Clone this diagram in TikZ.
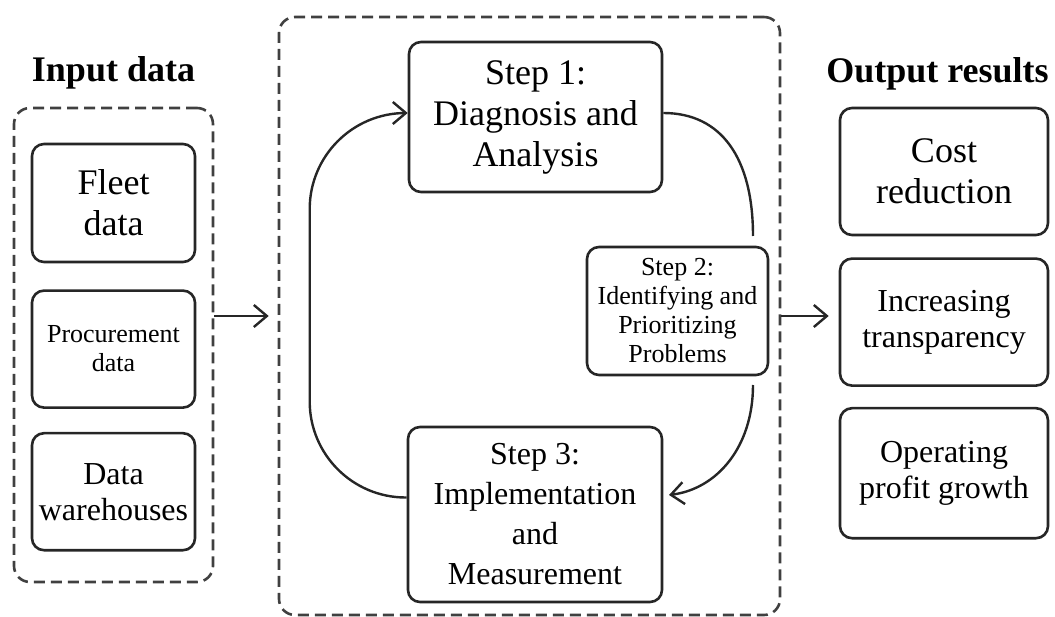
\documentclass[tikz,border=0pt]{standalone}
\usepackage{fontspec}
\setmainfont{Liberation Serif}
\usetikzlibrary{arrows.meta, positioning}

\begin{document}
\begin{tikzpicture}[x=1pt, y=-1pt,
    box/.style={draw=black!85, rounded corners=12pt, line width=2.6pt, align=center, inner sep=0pt},
    frame/.style={draw=black!75, dash pattern=on 11pt off 6pt, rounded corners=16pt, line width=2.6pt},
    big/.style={font=\fontsize{36}{41}\selectfont},
    mid/.style={font=\fontsize{32}{36}\selectfont},
    small/.style={font=\fontsize{26}{29}\selectfont},
    heading/.style={font=\fontsize{36}{41}\selectfont\bfseries, anchor=base},
    link/.style={draw=black!85, line width=2.4pt},
    arr/.style={link, -{Straight Barb[length=13pt, width=22pt]}}]
  \useasboundingbox (0,0) rectangle (1055,617);

  % input side
  \node[heading] (intitle) at (113.5,82) {Input data};
  \node[frame, minimum width=199pt, minimum height=474pt] (inframe) at (113.5,345) {};
  \node[box, big, minimum width=163pt, minimum height=118pt] (fleet) at (113.5,203) {Fleet\\data};
  \node[box, small, minimum width=163pt, minimum height=117pt, below=26pt of fleet] (procure) {Procurement\\data};
  \node[box, mid, minimum width=163pt, minimum height=117pt, below=23pt of procure] (warehouse) {Data\\warehouses};

  % the three steps
  \node[frame, minimum width=501pt, minimum height=598pt] (midframe) at (529.5,316) {};
  \node[box, big, minimum width=253pt, minimum height=150pt] (step1) at (535.5,117) {Step 1:\\Diagnosis and\\Analysis};
  \node[box, small, minimum width=181pt, minimum height=128pt] (step2) at (677.5,311) {Step 2:\\Identifying and\\Prioritizing\\Problems};
  \node[box, mid, font=\fontsize{32}{40}\selectfont, minimum width=254pt, minimum height=175pt] (step3) at (535,514.5) {Step 3:\\Implementation\\and\\Measurement};

  % output side
  \node[heading] (outtitle) at (937.5,83) {Output results};
  \node[box, big, minimum width=208pt, minimum height=127pt] (cost) at (944,171.5) {Cost\\reduction};
  \node[box, mid, minimum width=208pt, minimum height=127pt, below=21pt of cost] (transp) {Increasing\\transparency};
  \node[box, mid, minimum width=208pt, minimum height=130pt, below=20pt of transp] (profit) {Operating\\profit growth};

  % cycle
  \coordinate (s2top) at (753,236);
  \coordinate (s2bot) at (753,385);
  \coordinate (s3tip) at (669,495);
  \draw[link] ([yshift=4pt]step1.east) .. controls +(58,0) and +(0,-78) .. (s2top);
  \draw[arr] (s2bot) .. controls +(0,62) and +(48,-6) .. (s3tip);
  \draw[arr, rounded corners=96pt] ([yshift=17pt]step3.west) -| ([xshift=-98pt,yshift=4pt]step1.west) -- ([yshift=4pt]step1.west);

  % flow between the groups
  \draw[arr, shorten >=9pt] (inframe.east |- midframe.west) -- (midframe.west);
  \draw[arr, shorten >=10pt] (midframe.east) -- (transp.west |- midframe.east);
\end{tikzpicture}
\end{document}
